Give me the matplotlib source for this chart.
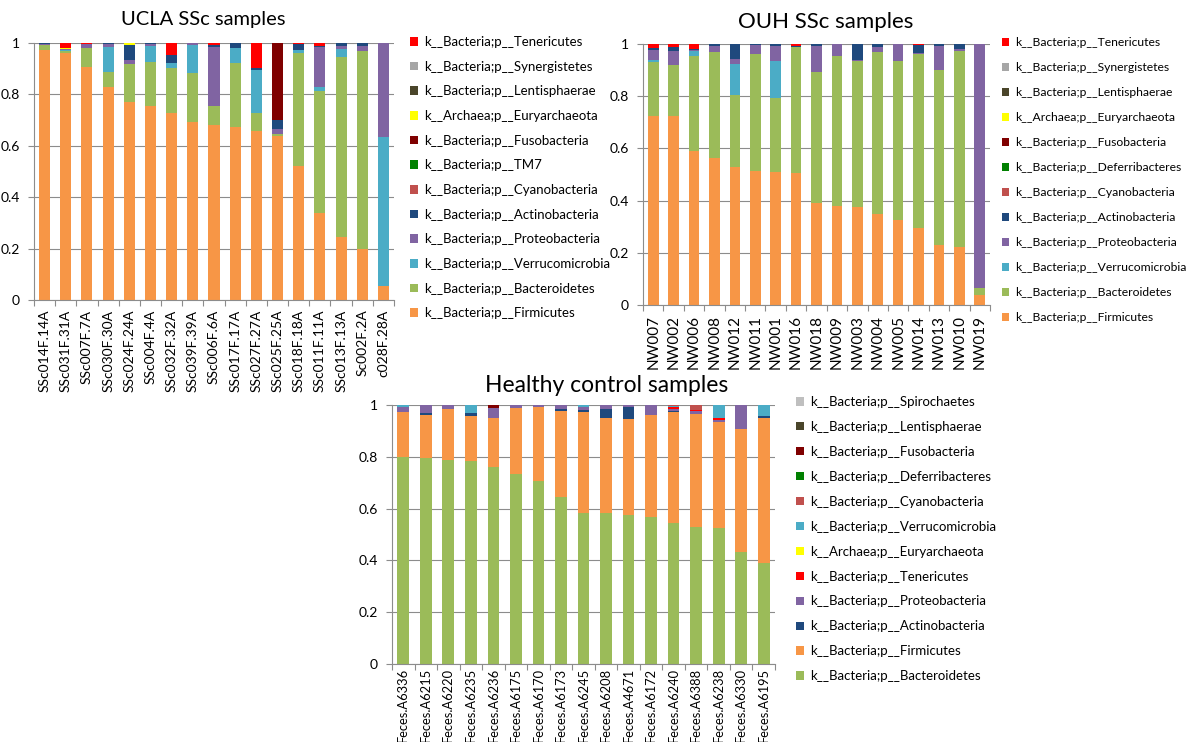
import matplotlib
matplotlib.use("Agg")
import matplotlib.pyplot as plt
import numpy as np

plt.rcParams['font.family'] = ['Lato', 'DejaVu Sans']

# ---- colours (Excel 2010 palette) ----
C_FIRM = '#F79646'
C_BACT = '#9BBB59'
C_VERR = '#4BACC6'
C_PROT = '#8064A2'
C_ACTI = '#1F497D'
C_CYAN = '#C0504D'
C_TM7 = '#008000'
C_FUSO = '#7F0000'
C_EURY = '#FFFF00'
C_LENT = '#4A452A'
C_GREY = '#A6A6A6'
C_TENE = '#FF0000'

# ---- UCLA SSc samples ----
ucla_samples = ['SSc014F.14A', 'SSc031F.31A', 'SSc007F.7A', 'SSc030F.30A', 'SSc024F.24A',
                'SSc004F.4A', 'SSc032F.32A', 'SSc039F.39A', 'SSc006F.6A', 'SSc017F.17A',
                'SSc027F.27A', 'SSc025F.25A', 'SSc018F.18A', 'SSc011F.11A', 'SSc013F.13A',
                'Sc002F.2A', 'c028F.28A']
ucla_firmicutes = [0.974, 0.960, 0.906, 0.827, 0.770, 0.753, 0.726, 0.692, 0.679, 0.673, 0.657, 0.639, 0.520, 0.340, 0.246, 0.198, 0.054]
ucla_bacteroidetes = [0.020, 0.008, 0.075, 0.062, 0.148, 0.172, 0.177, 0.190, 0.074, 0.249, 0.070, 0.008, 0.440, 0.472, 0.698, 0.772, 0.000]
ucla_verrucomicrobia = [0.000, 0.004, 0.000, 0.097, 0.000, 0.065, 0.019, 0.112, 0.000, 0.059, 0.168, 0.000, 0.013, 0.016, 0.033, 0.000, 0.580]
ucla_proteobacteria = [0.004, 0.004, 0.015, 0.010, 0.017, 0.005, 0.000, 0.006, 0.233, 0.000, 0.000, 0.017, 0.000, 0.155, 0.013, 0.020, 0.366]
ucla_actinobacteria = [0.002, 0.000, 0.000, 0.004, 0.057, 0.005, 0.031, 0.000, 0.008, 0.019, 0.007, 0.035, 0.023, 0.004, 0.010, 0.010, 0.000]
ucla_cyanobacteria = [0, 0, 0, 0, 0, 0, 0, 0, 0, 0, 0, 0, 0, 0, 0, 0, 0]
ucla_tm7 = [0, 0, 0, 0, 0, 0, 0, 0, 0, 0, 0, 0, 0, 0, 0, 0, 0]
ucla_fusobacteria = [0, 0, 0, 0, 0, 0, 0, 0, 0, 0, 0, 0.301, 0, 0, 0, 0, 0]
ucla_euryarchaeota = [0, 0.006, 0, 0, 0.008, 0, 0, 0, 0, 0, 0, 0, 0, 0, 0, 0, 0]
ucla_lentisphaerae = [0, 0, 0, 0, 0, 0, 0, 0, 0, 0, 0, 0, 0, 0, 0, 0, 0]
ucla_synergistetes = [0, 0, 0, 0, 0, 0, 0, 0, 0, 0, 0, 0, 0, 0, 0, 0, 0]
ucla_tenericutes = [0, 0.018, 0.004, 0, 0, 0, 0.047, 0, 0.006, 0, 0.098, 0, 0.004, 0.013, 0, 0, 0]

# ---- OUH SSc samples ----
ouh_samples = ['NW007', 'NW002', 'NW006', 'NW008', 'NW012', 'NW011', 'NW001', 'NW016', 'NW018',
               'NW009', 'NW003', 'NW004', 'NW005', 'NW014', 'NW013', 'NW010', 'NW019']
ouh_firmicutes = [0.725, 0.723, 0.590, 0.563, 0.528, 0.514, 0.509, 0.505, 0.390, 0.380, 0.375, 0.349, 0.326, 0.294, 0.230, 0.222, 0.038]
ouh_bacteroidetes = [0.206, 0.198, 0.365, 0.408, 0.278, 0.449, 0.286, 0.482, 0.501, 0.573, 0.559, 0.619, 0.610, 0.669, 0.672, 0.750, 0.028]
ouh_verrucomicrobia = [0.006, 0, 0.017, 0, 0.117, 0, 0.141, 0, 0, 0, 0, 0, 0, 0, 0, 0, 0]
ouh_proteobacteria = [0.041, 0.051, 0.005, 0.020, 0.019, 0.034, 0.058, 0, 0.103, 0.047, 0.006, 0.020, 0.064, 0.004, 0.092, 0.009, 0.934]
ouh_actinobacteria = [0.007, 0.016, 0.005, 0.009, 0.058, 0.003, 0.006, 0.005, 0.006, 0, 0.060, 0.012, 0, 0.028, 0.006, 0.019, 0]
ouh_cyanobacteria = [0, 0, 0, 0, 0, 0, 0, 0, 0, 0, 0, 0, 0, 0, 0, 0, 0]
ouh_deferribacteres = [0, 0, 0, 0, 0, 0, 0, 0, 0, 0, 0, 0, 0, 0, 0, 0, 0]
ouh_fusobacteria = [0, 0, 0, 0, 0, 0, 0, 0, 0, 0, 0, 0, 0, 0, 0, 0, 0]
ouh_euryarchaeota = [0, 0, 0, 0, 0, 0, 0, 0, 0, 0, 0, 0, 0, 0, 0, 0, 0]
ouh_lentisphaerae = [0, 0, 0, 0, 0, 0, 0, 0, 0, 0, 0, 0, 0, 0, 0, 0, 0]
ouh_synergistetes = [0, 0, 0, 0, 0, 0, 0, 0, 0, 0, 0, 0, 0, 0, 0, 0, 0]
ouh_tenericutes = [0.015, 0.012, 0.018, 0, 0, 0, 0, 0.008, 0, 0, 0, 0, 0, 0.005, 0, 0, 0]

# ---- Healthy control samples ----
hc_samples = ['Feces.A6336', 'Feces.A6215', 'Feces.A6220', 'Feces.A6235', 'Feces.A6236',
              'Feces.A6175', 'Feces.A6170', 'Feces.A6173', 'Feces.A6245', 'Feces.A6208',
              'Feces.A4671', 'Feces.A6172', 'Feces.A6240', 'Feces.A6388', 'Feces.A6238',
              'Feces.A6330', 'Feces.A6195']
hc_bacteroidetes = [0.798, 0.794, 0.788, 0.785, 0.759, 0.732, 0.707, 0.644, 0.582, 0.582, 0.575, 0.569, 0.543, 0.530, 0.524, 0.434, 0.389]
hc_firmicutes = [0.176, 0.167, 0.197, 0.173, 0.192, 0.255, 0.284, 0.333, 0.392, 0.369, 0.370, 0.392, 0.429, 0.435, 0.412, 0.472, 0.560]
hc_actinobacteria = [0, 0.009, 0, 0.010, 0, 0.003, 0, 0.006, 0.008, 0.032, 0.046, 0, 0.005, 0, 0, 0, 0.008]
hc_proteobacteria = [0.017, 0.030, 0.015, 0.003, 0.036, 0.010, 0.009, 0.017, 0.010, 0.017, 0.009, 0.039, 0.008, 0.010, 0.008, 0.094, 0]
hc_tenericutes = [0, 0, 0, 0, 0, 0, 0, 0, 0, 0, 0, 0, 0.008, 0.005, 0.006, 0, 0]
hc_euryarchaeota = [0, 0, 0, 0, 0, 0, 0, 0, 0, 0, 0, 0, 0, 0, 0, 0, 0]
hc_verrucomicrobia = [0.009, 0, 0, 0.029, 0, 0, 0, 0, 0.008, 0, 0, 0, 0.004, 0, 0.050, 0, 0.043]
hc_cyanobacteria = [0, 0, 0, 0, 0, 0, 0, 0, 0, 0, 0, 0, 0.003, 0.020, 0, 0, 0]
hc_deferribacteres = [0, 0, 0, 0, 0, 0, 0, 0, 0, 0, 0, 0, 0, 0, 0, 0, 0]
hc_fusobacteria = [0, 0, 0, 0, 0.013, 0, 0, 0, 0, 0, 0, 0, 0, 0, 0, 0, 0]
hc_lentisphaerae = [0, 0, 0, 0, 0, 0, 0, 0, 0, 0, 0, 0, 0, 0, 0, 0, 0]
hc_spirochaetes = [0, 0, 0, 0, 0, 0, 0, 0, 0, 0, 0, 0, 0, 0, 0, 0, 0]

W, H = 1190, 742
GRID = '#8C8C8C'


def px_axes(fig, x0, y0, x1, y1):
    # pixel box (from top-left) -> figure axes
    return fig.add_axes([x0 / W, 1 - y1 / H, (x1 - x0) / W, (y1 - y0) / H])


def draw_panel(fig, ax, samples, series, title, title_xy, title_fs,
               leg_xy, leg_fs, leg_sp, xfs, xpad):
    x = np.arange(len(samples))
    bottom = np.zeros(len(samples))
    handles = []
    for name, vals, color in series:
        vals = np.array(vals, dtype=float)
        b = ax.bar(x, vals, 0.52, bottom=bottom, color=color, label=name, linewidth=0)
        bottom += vals
        handles.append(b)

    ax.set_xlim(-0.5, len(samples) - 0.5)
    ax.set_ylim(0, 1)
    ax.set_yticks([0, 0.2, 0.4, 0.6, 0.8, 1.0])
    ax.set_yticklabels(['0', '0.2', '0.4', '0.6', '0.8', '1'], fontsize=10)
    ax.set_xticks(x)
    ax.set_xticklabels(samples, rotation=90, fontsize=xfs)
    ax.set_xticks(np.arange(len(samples) + 1) - 0.5, minor=True)
    ax.tick_params(axis='x', which='major', length=0, pad=xpad)
    ax.tick_params(axis='x', which='minor', length=4, color=GRID, width=0.8)
    ax.tick_params(axis='y', length=4, color=GRID, width=0.8, pad=6)
    ax.yaxis.grid(True, color=GRID, linewidth=0.8)
    ax.set_axisbelow(True)
    for s in ['top', 'right']:
        ax.spines[s].set_visible(False)
    for s in ['left', 'bottom']:
        ax.spines[s].set_color(GRID)
        ax.spines[s].set_linewidth(0.8)

    fig.text(title_xy[0] / W, 1 - title_xy[1] / H, title, fontsize=title_fs,
             ha='center', va='center')

    labels = [s[0] for s in series]
    fig.legend(handles[::-1], labels[::-1], loc='upper left',
               bbox_to_anchor=(leg_xy[0] / W, 1 - leg_xy[1] / H),
               frameon=False, fontsize=leg_fs, handlelength=0.6, handleheight=0.6,
               handletextpad=0.45, labelspacing=leg_sp, borderpad=0, borderaxespad=0)


fig = plt.figure(figsize=(11.9, 7.42), dpi=100)

ax1 = px_axes(fig, 34, 43, 394, 300)
draw_panel(fig, ax1, ucla_samples, [
    ('k__Bacteria;p__Firmicutes', ucla_firmicutes, C_FIRM),
    ('k__Bacteria;p__Bacteroidetes', ucla_bacteroidetes, C_BACT),
    ('k__Bacteria;p__Verrucomicrobia', ucla_verrucomicrobia, C_VERR),
    ('k__Bacteria;p__Proteobacteria', ucla_proteobacteria, C_PROT),
    ('k__Bacteria;p__Actinobacteria', ucla_actinobacteria, C_ACTI),
    ('k__Bacteria;p__Cyanobacteria', ucla_cyanobacteria, C_CYAN),
    ('k__Bacteria;p__TM7', ucla_tm7, C_TM7),
    ('k__Bacteria;p__Fusobacteria', ucla_fusobacteria, C_FUSO),
    ('k__Archaea;p__Euryarchaeota', ucla_euryarchaeota, C_EURY),
    ('k__Bacteria;p__Lentisphaerae', ucla_lentisphaerae, C_LENT),
    ('k__Bacteria;p__Synergistetes', ucla_synergistetes, C_GREY),
    ('k__Bacteria;p__Tenericutes', ucla_tenericutes, C_TENE),
], 'UCLA SSc samples', (203, 19), 14.5, (410, 36), 9.5, 0.96, 10, 7)

ax2 = px_axes(fig, 643, 44, 990, 305)
draw_panel(fig, ax2, ouh_samples, [
    ('k__Bacteria;p__Firmicutes', ouh_firmicutes, C_FIRM),
    ('k__Bacteria;p__Bacteroidetes', ouh_bacteroidetes, C_BACT),
    ('k__Bacteria;p__Verrucomicrobia', ouh_verrucomicrobia, C_VERR),
    ('k__Bacteria;p__Proteobacteria', ouh_proteobacteria, C_PROT),
    ('k__Bacteria;p__Actinobacteria', ouh_actinobacteria, C_ACTI),
    ('k__Bacteria;p__Cyanobacteria', ouh_cyanobacteria, C_CYAN),
    ('k__Bacteria;p__Deferribacteres', ouh_deferribacteres, C_TM7),
    ('k__Bacteria;p__Fusobacteria', ouh_fusobacteria, C_FUSO),
    ('k__Archaea;p__Euryarchaeota', ouh_euryarchaeota, C_EURY),
    ('k__Bacteria;p__Lentisphaerae', ouh_lentisphaerae, C_LENT),
    ('k__Bacteria;p__Synergistetes', ouh_synergistetes, C_GREY),
    ('k__Bacteria;p__Tenericutes', ouh_tenericutes, C_TENE),
], 'OUH SSc samples', (826, 22), 16, (1002, 37), 8.7, 1.16, 11, 7)

ax3 = px_axes(fig, 392, 405, 775, 664)
draw_panel(fig, ax3, hc_samples, [
    ('k__Bacteria;p__Bacteroidetes', hc_bacteroidetes, C_BACT),
    ('k__Bacteria;p__Firmicutes', hc_firmicutes, C_FIRM),
    ('k__Bacteria;p__Actinobacteria', hc_actinobacteria, C_ACTI),
    ('k__Bacteria;p__Proteobacteria', hc_proteobacteria, C_PROT),
    ('k__Bacteria;p__Tenericutes', hc_tenericutes, C_TENE),
    ('k__Archaea;p__Euryarchaeota', hc_euryarchaeota, C_EURY),
    ('k__Bacteria;p__Verrucomicrobia', hc_verrucomicrobia, C_VERR),
    ('k__Bacteria;p__Cyanobacteria', hc_cyanobacteria, C_CYAN),
    ('k__Bacteria;p__Deferribacteres', hc_deferribacteres, C_TM7),
    ('k__Bacteria;p__Fusobacteria', hc_fusobacteria, C_FUSO),
    ('k__Bacteria;p__Lentisphaerae', hc_lentisphaerae, C_LENT),
    ('k__Bacteria;p__Spirochaetes', hc_spirochaetes, '#BFBFBF'),
], 'Healthy control samples', (607, 385), 16.5, (796, 396), 9.5, 0.98, 9.3, 3)

fig.savefig('out.png', dpi=100)
